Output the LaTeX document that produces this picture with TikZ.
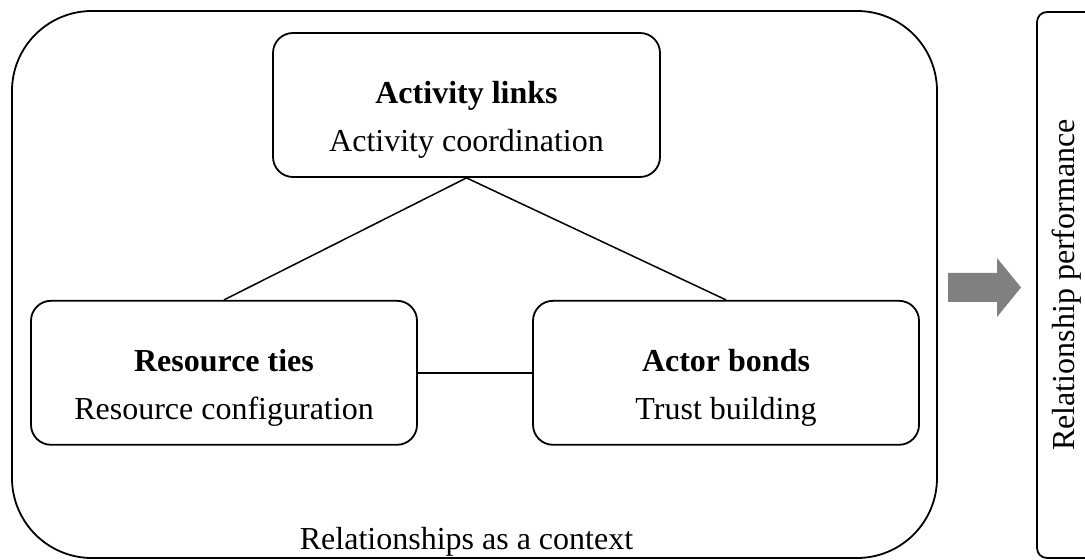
\documentclass[tikz,border=0pt]{standalone}
\usepackage{fontspec}
\setmainfont{Liberation Serif}
\usetikzlibrary{positioning,calc}

\begin{document}
\begin{tikzpicture}[
  x=0.5pt, y=-0.5pt,
  font=\fontsize{16}{24}\selectfont,
  line width=0.75pt,
  box/.style={rectangle, draw, line width=0.9pt, rounded corners=10pt, minimum width=193pt, minimum height=72pt, align=center, text height=47pt, text depth=0pt, inner sep=0pt},
  ctxbox/.style={rectangle, draw, line width=0.9pt, rounded corners=40pt, minimum width=462.5pt, minimum height=273.5pt},
  perfbox/.style={rectangle, draw, line width=0.9pt, rounded corners=5pt, rotate=90, minimum width=273pt, minimum height=30pt},
  bigarrow/.style={fill=black!50},
]
  \useasboundingbox (0,0) rectangle (1085,560);
  \node[ctxbox] (ctx) at (474.5,284.5) {};
  \node[box, minimum width=193.5pt] (act) at (466.5,105) {\textbf{Activity links}\\Activity coordination};
  \node[box, below=61pt of act, xshift=-121.25pt] (res) {\textbf{Resource ties}\\Resource configuration};
  \node[box, below=61pt of act, xshift=129.75pt] (actor) {\textbf{Actor bonds}\\Trust building};
  \node[anchor=base] (ctxlabel) at (466.5,549) {Relationships as a context};
  \node[perfbox] (perf) at (1067,285) {Relationship performance};

  \draw (act.south) -- (res.north);
  \draw (act.south) -- (actor.north);
  \draw (res.east) -- (actor.west);

  \coordinate (arr) at (948,287.5);
  \fill[bigarrow] (arr) ++(0,-14.5) -- ++(49,0) -- ++(0,-15) -- ++(24,29.5) -- ++(-24,29.5) -- ++(0,-15) -- ++(-49,0) -- cycle;
\end{tikzpicture}
\end{document}
